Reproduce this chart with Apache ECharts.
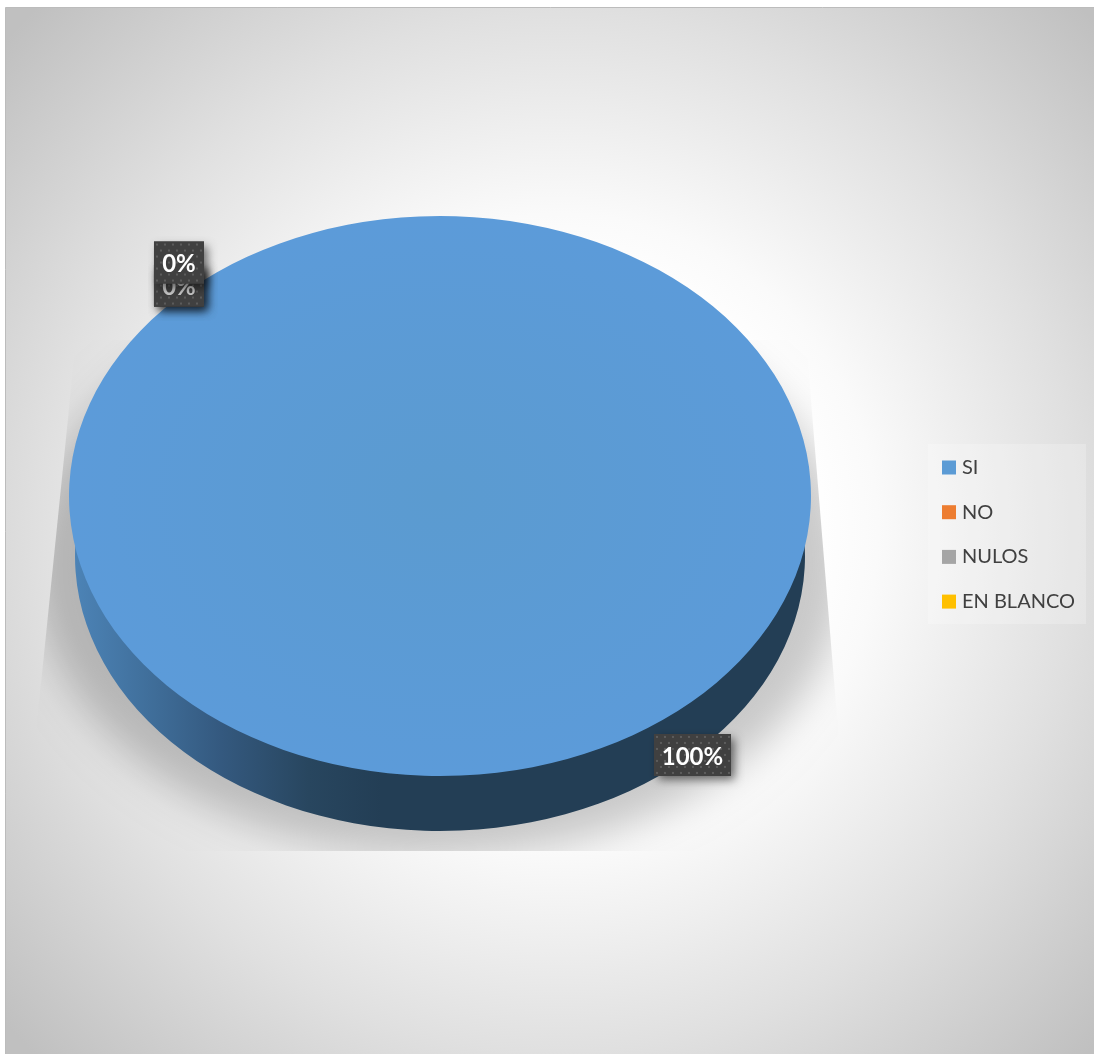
<!DOCTYPE html>
<html><head><meta charset="utf-8">
<style>html,body{margin:0;padding:0;background:#fff}#c{width:1094px;height:1054px}</style>
<script src="https://cdn.jsdelivr.net/npm/echarts@6/dist/echarts.min.js"></script>
</head><body><div id="c"></div>
<script>
var categories = ['SI', 'NO', 'NULOS', 'EN BLANCO'];
var values = [100, 0, 0, 0];
var colors = ['#5b9bd5', '#ed7d31', '#a5a5a5', '#ffc000'];

// layout of the tilted pie (not data)
var CX = 440, TOP_CY = 496, RX = 371, RY = 280;
var BOT_CY = 556, BOT_RX = 365, BOT_RY = 275;
var FIRST_ANGLE = 317.43;              // clockwise from 12 o'clock
var LABEL_STACK = [23, 23, 0];         // overlapped zero labels, vertical nudge

var total = values.reduce(function (a, b) { return a + b; }, 0);

function rad(clockDeg) { return (clockDeg - 90) * Math.PI / 180; }

var tile = document.createElement('canvas');
tile.width = 8; tile.height = 12;
(function () {
  var g = tile.getContext('2d');
  g.fillStyle = '#404040'; g.fillRect(0, 0, 8, 12);
  g.fillStyle = '#5c5c5c';
  g.fillRect(2, 2, 2, 2); g.fillRect(6, 8, 2, 2);
})();

function labelGroup(cx, cy, text, textFill) {
  var w = String(text).length > 2 ? 77 : 50, h = 42;
  return {
    type: 'group', x: cx - w / 2, y: cy - h / 2, z2: 50,
    children: [
      { type: 'rect', shape: { x: 0, y: 0, width: w, height: h },
        style: { fill: '#404040', shadowBlur: 9, shadowOffsetX: 4, shadowOffsetY: 4, shadowColor: 'rgba(0,0,0,0.55)' } },
      { type: 'rect', shape: { x: 0, y: 0, width: w, height: h },
        style: { fill: { image: tile, repeat: 'repeat' } } },
      { type: 'text', x: w / 2, y: h / 2 + 2,
        style: { text: text, fill: textFill, font: 'bold 24px Lato, "Open Sans", sans-serif', align: 'center', verticalAlign: 'middle' } }
    ]
  };
}

function shadowItem() {
  return {
    type: 'group',
    clipPath: { type: 'polygon', shape: { points: [[76, 340], [806, 340], [848, 851], [24, 851]] } },
    children: [{
      type: 'sector', x: CX - 3000, y: 565, scaleX: 1, scaleY: 292 / 405,
      shape: { cx: 0, cy: 0, r: 405, r0: 0, startAngle: 0, endAngle: Math.PI * 2 },
      style: { fill: '#000', shadowBlur: 40, shadowOffsetX: 3000, shadowOffsetY: 0, shadowColor: 'rgba(0,0,0,0.21)' }
    }]
  };
}

function sliceItem(i) {
  return function (params, api) {
    var v = api.value(0);
    var before = values.slice(0, i).reduce(function (a, b) { return a + b; }, 0);
    var span = v / total * 360;
    var start = FIRST_ANGLE + before / total * 360, end = start + span, mid = start + span / 2;
    var children = [];
    if (span > 0) {
      children.push({
        type: 'sector', x: CX, y: BOT_CY, scaleY: BOT_RY / BOT_RX,
        shape: { cx: 0, cy: 0, r: BOT_RX, r0: 0, startAngle: rad(start), endAngle: rad(end) },
        style: { fill: { type: 'linear', x: 0, y: 0, x2: 1, y2: 0, colorStops: [
          { offset: 0, color: '#4c83b6' }, { offset: 0.10, color: '#406f9b' }, { offset: 0.2, color: '#34597f' },
          { offset: 0.32, color: '#28465f' }, { offset: 0.42, color: '#233e55' }, { offset: 1, color: '#233e55' }] } }
      });
      children.push({
        type: 'sector', x: CX, y: TOP_CY, scaleY: RY / RX,
        shape: { cx: 0, cy: 0, r: RX, r0: 0, startAngle: rad(start), endAngle: rad(end) },
        style: { fill: { type: 'radial', x: 0.5, y: 0.5, r: 0.5, colorStops: [
          { offset: 0, color: '#5b9bd0' }, { offset: 1, color: '#5c9bd9' }] } }
      });
    }
    var a = rad(mid), lx, ly;
    if (span > 0) {
      lx = CX + RX * Math.cos(a) * 1.006;
      ly = TOP_CY + RY * Math.sin(a) * 1.006 + 51.5;
    } else {
      lx = CX + RX * Math.cos(a) * 1.04;
      ly = TOP_CY + RY * Math.sin(a) * 1.04 - 19 + LABEL_STACK[i - 1];
    }
    var pct = Math.round(v / total * 100) + '%';
    var covered = span === 0 && LABEL_STACK[i - 1] > 0;
    children.push(labelGroup(lx, ly, pct, covered ? '#c9c9c9' : '#ffffff'));
    return { type: 'group', children: children };
  };
}

var series = [{
  type: 'custom', name: 'sombra', coordinateSystem: 'none', silent: true,
  data: [[1]], renderItem: shadowItem, z: 1
}].concat(categories.map(function (name, i) {
  return {
    type: 'custom', name: name, coordinateSystem: 'none', silent: true,
    itemStyle: { color: colors[i] }, data: [[values[i]]],
    renderItem: sliceItem(i), z: 2, animation: false
  };
}));

var chart = echarts.init(document.getElementById('c'), null, { renderer: 'canvas' });
chart.setOption({
  animation: false,
  graphic: [{
    type: 'rect', z: -10, silent: true,
    shape: { x: 5.5, y: 7.5, width: 1092, height: 1050 },
    style: { stroke: '#bcbcbc', lineWidth: 1, fill: { type: 'radial', x: 0.507, y: 0.5, r: 0.705, colorStops: [
      { offset: 0, color: '#ffffff' }, { offset: 0.34, color: '#ffffff' }, { offset: 0.43, color: '#fafafa' },
      { offset: 0.70, color: '#e0e0e0' }, { offset: 1, color: '#c0c0c0' }] } }
  }],
  legend: {
    data: categories, orient: 'vertical', left: 928, top: 444, selectedMode: false,
    backgroundColor: 'rgba(255,255,255,0.22)', borderRadius: 0,
    padding: [11, 11, 10, 14],
    itemWidth: 14, itemHeight: 14, itemGap: 19.7, icon: 'rect',
    textStyle: { color: '#404040', fontSize: 20, fontFamily: 'Lato', height: 25, lineHeight: 25, padding: [0, 0, 0, 1] }
  },
  series: series
});
</script></body></html>
